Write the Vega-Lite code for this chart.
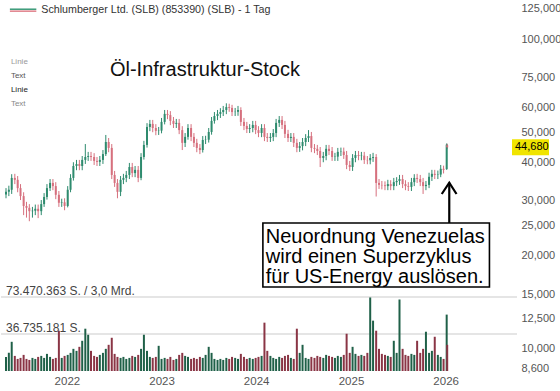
{
  "$schema": "https://vega.github.io/schema/vega-lite/v6.json",
  "width": 516,
  "height": 371,
  "padding": 0,
  "background": "white",
  "config": {
    "view": {"stroke": null},
    "font": "Liberation Sans",
    "axis": {"grid": false, "ticks": false, "domain": false, "labelColor": "#555", "titleColor": "#555"}
  },
  "datasets": {
    "px": [
      {"d":"2021-05-11","o":31.5,"h":33.0,"l":30.6,"c":32.1,"v":14},
      {"d":"2021-05-22","o":32.1,"h":33.6,"l":31.1,"c":32.6,"v":18},
      {"d":"2021-06-02","o":32.6,"h":36.6,"l":31.6,"c":35.6,"v":29},
      {"d":"2021-06-14","o":35.6,"h":36.7,"l":34.0,"c":35.1,"v":15},
      {"d":"2021-06-25","o":35.1,"h":36.1,"l":32.0,"c":33.0,"v":12},
      {"d":"2021-07-06","o":33.0,"h":34.0,"l":30.2,"c":31.1,"v":13},
      {"d":"2021-07-18","o":31.1,"h":32.0,"l":27.0,"c":28.9,"v":16},
      {"d":"2021-07-29","o":28.9,"h":29.8,"l":26.5,"c":28.5,"v":12},
      {"d":"2021-08-09","o":28.5,"h":29.3,"l":25.8,"c":27.8,"v":11},
      {"d":"2021-08-21","o":27.8,"h":28.7,"l":26.5,"c":27.9,"v":13},
      {"d":"2021-09-01","o":27.9,"h":29.2,"l":27.0,"c":28.3,"v":12},
      {"d":"2021-09-12","o":28.3,"h":29.2,"l":26.4,"c":27.8,"v":14},
      {"d":"2021-09-24","o":27.8,"h":30.2,"l":27.0,"c":29.3,"v":15},
      {"d":"2021-10-05","o":29.3,"h":31.8,"l":28.7,"c":30.9,"v":13},
      {"d":"2021-10-16","o":30.9,"h":34.0,"l":30.3,"c":33.0,"v":17},
      {"d":"2021-10-28","o":33.0,"h":35.3,"l":32.3,"c":34.3,"v":14},
      {"d":"2021-11-08","o":34.3,"h":35.3,"l":32.5,"c":33.5,"v":12},
      {"d":"2021-11-19","o":33.5,"h":34.5,"l":30.4,"c":31.4,"v":13},
      {"d":"2021-12-01","o":31.4,"h":32.3,"l":28.7,"c":29.6,"v":40},
      {"d":"2021-12-12","o":29.6,"h":30.5,"l":28.7,"c":29.7,"v":13},
      {"d":"2021-12-23","o":29.7,"h":30.6,"l":28.0,"c":28.9,"v":15},
      {"d":"2022-01-04","o":28.9,"h":33.5,"l":28.6,"c":32.6,"v":16},
      {"d":"2022-01-15","o":32.6,"h":36.6,"l":32.0,"c":35.6,"v":18},
      {"d":"2022-01-26","o":35.6,"h":40.0,"l":34.9,"c":38.9,"v":22},
      {"d":"2022-02-07","o":38.9,"h":40.7,"l":37.7,"c":39.5,"v":20},
      {"d":"2022-02-18","o":39.5,"h":40.7,"l":37.7,"c":38.9,"v":24},
      {"d":"2022-03-01","o":38.9,"h":41.9,"l":37.7,"c":40.7,"v":30},
      {"d":"2022-03-13","o":40.7,"h":45.8,"l":39.5,"c":41.6,"v":42},
      {"d":"2022-03-24","o":41.6,"h":43.2,"l":40.4,"c":41.9,"v":36},
      {"d":"2022-04-04","o":41.9,"h":43.2,"l":40.4,"c":41.6,"v":20},
      {"d":"2022-04-16","o":41.6,"h":42.8,"l":39.2,"c":40.4,"v":15},
      {"d":"2022-04-27","o":40.4,"h":41.6,"l":38.9,"c":40.1,"v":14},
      {"d":"2022-05-08","o":40.1,"h":41.9,"l":38.9,"c":40.7,"v":16},
      {"d":"2022-05-20","o":40.7,"h":43.8,"l":39.5,"c":42.5,"v":18},
      {"d":"2022-05-31","o":42.5,"h":49.0,"l":41.9,"c":46.5,"v":22},
      {"d":"2022-06-11","o":46.5,"h":47.9,"l":43.1,"c":44.5,"v":26},
      {"d":"2022-06-23","o":44.5,"h":45.8,"l":35.3,"c":36.4,"v":33},
      {"d":"2022-07-04","o":36.4,"h":37.5,"l":33.3,"c":34.3,"v":17},
      {"d":"2022-07-15","o":34.3,"h":35.3,"l":30.6,"c":32.1,"v":14},
      {"d":"2022-07-27","o":32.1,"h":36.1,"l":31.1,"c":35.1,"v":13},
      {"d":"2022-08-07","o":35.1,"h":36.7,"l":34.0,"c":35.6,"v":14},
      {"d":"2022-08-18","o":35.6,"h":37.5,"l":34.5,"c":36.4,"v":12},
      {"d":"2022-08-30","o":36.4,"h":39.8,"l":35.3,"c":38.6,"v":13},
      {"d":"2022-09-10","o":38.6,"h":39.8,"l":35.8,"c":36.9,"v":15},
      {"d":"2022-09-21","o":36.9,"h":38.9,"l":35.8,"c":37.8,"v":14},
      {"d":"2022-10-03","o":37.8,"h":38.9,"l":34.5,"c":35.6,"v":16},
      {"d":"2022-10-14","o":35.6,"h":42.8,"l":35.0,"c":41.6,"v":22},
      {"d":"2022-10-25","o":41.6,"h":46.9,"l":40.8,"c":45.5,"v":36},
      {"d":"2022-11-06","o":45.5,"h":53.5,"l":44.6,"c":52.0,"v":20},
      {"d":"2022-11-17","o":52.0,"h":54.8,"l":50.4,"c":53.2,"v":14},
      {"d":"2022-11-28","o":53.2,"h":54.8,"l":50.0,"c":51.6,"v":13},
      {"d":"2022-12-10","o":51.6,"h":53.1,"l":48.9,"c":50.5,"v":14},
      {"d":"2022-12-21","o":50.5,"h":52.0,"l":49.0,"c":50.6,"v":25},
      {"d":"2023-01-01","o":50.6,"h":55.6,"l":49.6,"c":54.0,"v":12},
      {"d":"2023-01-13","o":54.0,"h":59.0,"l":53.0,"c":57.3,"v":13},
      {"d":"2023-01-24","o":57.3,"h":59.0,"l":55.1,"c":56.8,"v":12},
      {"d":"2023-02-04","o":56.8,"h":58.5,"l":52.7,"c":54.4,"v":14},
      {"d":"2023-02-16","o":54.4,"h":56.0,"l":51.6,"c":53.2,"v":11},
      {"d":"2023-02-27","o":53.2,"h":55.2,"l":51.6,"c":53.6,"v":12},
      {"d":"2023-03-10","o":53.6,"h":55.2,"l":49.3,"c":50.8,"v":16},
      {"d":"2023-03-22","o":50.8,"h":52.3,"l":43.8,"c":46.2,"v":18},
      {"d":"2023-04-02","o":46.2,"h":49.7,"l":44.8,"c":48.3,"v":15},
      {"d":"2023-04-13","o":48.3,"h":53.1,"l":47.3,"c":51.6,"v":14},
      {"d":"2023-04-25","o":51.6,"h":53.1,"l":46.8,"c":48.3,"v":12},
      {"d":"2023-05-06","o":48.3,"h":49.7,"l":44.8,"c":46.2,"v":13},
      {"d":"2023-05-17","o":46.2,"h":47.6,"l":43.1,"c":44.5,"v":12},
      {"d":"2023-05-29","o":44.5,"h":45.8,"l":42.5,"c":43.8,"v":14},
      {"d":"2023-06-09","o":43.8,"h":48.6,"l":43.0,"c":47.2,"v":13},
      {"d":"2023-06-20","o":47.2,"h":48.7,"l":45.8,"c":47.3,"v":16},
      {"d":"2023-07-02","o":47.3,"h":51.6,"l":46.3,"c":50.1,"v":24},
      {"d":"2023-07-13","o":50.1,"h":56.0,"l":49.1,"c":54.4,"v":18},
      {"d":"2023-07-24","o":54.4,"h":58.1,"l":53.3,"c":56.4,"v":12},
      {"d":"2023-08-05","o":56.4,"h":59.0,"l":54.7,"c":57.3,"v":11},
      {"d":"2023-08-16","o":57.3,"h":59.8,"l":55.6,"c":58.1,"v":12},
      {"d":"2023-08-27","o":58.1,"h":60.8,"l":56.4,"c":59.0,"v":11},
      {"d":"2023-09-08","o":59.0,"h":62.0,"l":57.2,"c":60.3,"v":13},
      {"d":"2023-09-19","o":60.3,"h":61.8,"l":58.2,"c":59.9,"v":12},
      {"d":"2023-09-30","o":59.9,"h":61.3,"l":56.4,"c":58.1,"v":14},
      {"d":"2023-10-12","o":58.1,"h":59.9,"l":56.4,"c":58.2,"v":13},
      {"d":"2023-10-23","o":58.2,"h":60.8,"l":56.5,"c":59.0,"v":12},
      {"d":"2023-11-03","o":59.0,"h":60.2,"l":52.4,"c":54.0,"v":17},
      {"d":"2023-11-15","o":54.0,"h":55.6,"l":50.8,"c":52.4,"v":14},
      {"d":"2023-11-26","o":52.4,"h":54.0,"l":49.7,"c":51.2,"v":12},
      {"d":"2023-12-07","o":51.2,"h":53.1,"l":49.7,"c":51.6,"v":13},
      {"d":"2023-12-19","o":51.6,"h":54.4,"l":50.0,"c":52.8,"v":12},
      {"d":"2023-12-30","o":52.8,"h":54.4,"l":49.3,"c":50.8,"v":13},
      {"d":"2024-01-10","o":50.8,"h":52.3,"l":48.2,"c":49.7,"v":14},
      {"d":"2024-01-22","o":49.7,"h":53.1,"l":48.2,"c":51.6,"v":15},
      {"d":"2024-02-02","o":51.6,"h":53.1,"l":46.8,"c":48.3,"v":48},
      {"d":"2024-02-13","o":48.3,"h":49.7,"l":46.5,"c":47.9,"v":20},
      {"d":"2024-02-25","o":47.9,"h":49.7,"l":46.5,"c":48.3,"v":15},
      {"d":"2024-03-07","o":48.3,"h":51.2,"l":46.8,"c":49.7,"v":13},
      {"d":"2024-03-18","o":49.7,"h":55.2,"l":48.2,"c":53.6,"v":12},
      {"d":"2024-03-30","o":53.6,"h":56.4,"l":52.0,"c":54.8,"v":14},
      {"d":"2024-04-10","o":54.8,"h":56.4,"l":51.2,"c":52.8,"v":13},
      {"d":"2024-04-21","o":52.8,"h":54.4,"l":47.9,"c":49.4,"v":15},
      {"d":"2024-05-03","o":49.4,"h":50.9,"l":46.5,"c":47.9,"v":16},
      {"d":"2024-05-14","o":47.9,"h":49.7,"l":46.5,"c":48.3,"v":13},
      {"d":"2024-05-25","o":48.3,"h":49.7,"l":44.8,"c":46.2,"v":12},
      {"d":"2024-06-06","o":46.2,"h":47.6,"l":43.1,"c":44.5,"v":42},
      {"d":"2024-06-17","o":44.5,"h":46.5,"l":43.2,"c":45.1,"v":18},
      {"d":"2024-06-28","o":45.1,"h":47.9,"l":43.7,"c":46.5,"v":26},
      {"d":"2024-07-10","o":46.5,"h":49.3,"l":45.1,"c":47.9,"v":13},
      {"d":"2024-07-21","o":47.9,"h":50.8,"l":46.5,"c":48.6,"v":12},
      {"d":"2024-08-01","o":48.6,"h":50.1,"l":43.1,"c":44.5,"v":14},
      {"d":"2024-08-13","o":44.5,"h":45.8,"l":42.8,"c":44.2,"v":13},
      {"d":"2024-08-24","o":44.2,"h":45.5,"l":42.2,"c":43.5,"v":15},
      {"d":"2024-09-04","o":43.5,"h":44.8,"l":38.6,"c":41.3,"v":14},
      {"d":"2024-09-16","o":41.3,"h":43.2,"l":40.0,"c":41.9,"v":13},
      {"d":"2024-09-27","o":41.9,"h":45.5,"l":40.6,"c":44.2,"v":16},
      {"d":"2024-10-08","o":44.2,"h":45.5,"l":42.2,"c":43.5,"v":15},
      {"d":"2024-10-20","o":43.5,"h":44.8,"l":40.4,"c":41.6,"v":14},
      {"d":"2024-10-31","o":41.6,"h":42.9,"l":40.4,"c":41.7,"v":13},
      {"d":"2024-11-11","o":41.7,"h":44.5,"l":40.4,"c":43.2,"v":15},
      {"d":"2024-11-23","o":43.2,"h":44.6,"l":41.9,"c":43.3,"v":14},
      {"d":"2024-12-04","o":43.3,"h":44.6,"l":41.0,"c":42.2,"v":16},
      {"d":"2024-12-15","o":42.2,"h":43.5,"l":38.0,"c":39.2,"v":37},
      {"d":"2024-12-27","o":39.2,"h":40.4,"l":37.5,"c":38.6,"v":18},
      {"d":"2025-01-07","o":38.6,"h":42.5,"l":37.5,"c":41.3,"v":24},
      {"d":"2025-01-18","o":41.3,"h":43.5,"l":40.0,"c":42.2,"v":17},
      {"d":"2025-01-30","o":42.2,"h":43.5,"l":40.6,"c":41.9,"v":15},
      {"d":"2025-02-10","o":41.9,"h":43.2,"l":40.6,"c":42.0,"v":16},
      {"d":"2025-02-21","o":42.0,"h":43.2,"l":39.5,"c":40.7,"v":15},
      {"d":"2025-03-05","o":40.7,"h":41.9,"l":39.4,"c":40.6,"v":18},
      {"d":"2025-03-16","o":40.6,"h":42.5,"l":39.4,"c":41.3,"v":73},
      {"d":"2025-03-27","o":41.3,"h":42.9,"l":40.1,"c":41.6,"v":50},
      {"d":"2025-04-08","o":41.6,"h":42.5,"l":31.0,"c":34.3,"v":40},
      {"d":"2025-04-19","o":34.3,"h":35.3,"l":32.8,"c":33.8,"v":22},
      {"d":"2025-04-30","o":33.8,"h":34.8,"l":32.7,"c":33.7,"v":17},
      {"d":"2025-05-12","o":33.7,"h":34.7,"l":32.5,"c":33.5,"v":16},
      {"d":"2025-05-23","o":33.5,"h":35.1,"l":32.5,"c":34.0,"v":15},
      {"d":"2025-06-03","o":34.0,"h":35.0,"l":32.5,"c":33.5,"v":14},
      {"d":"2025-06-15","o":33.5,"h":35.6,"l":32.5,"c":34.5,"v":30},
      {"d":"2025-06-26","o":34.5,"h":35.8,"l":33.5,"c":34.8,"v":18},
      {"d":"2025-07-07","o":34.8,"h":36.4,"l":33.8,"c":35.3,"v":71},
      {"d":"2025-07-19","o":35.3,"h":36.4,"l":33.0,"c":34.0,"v":22},
      {"d":"2025-07-30","o":34.0,"h":35.0,"l":32.5,"c":33.5,"v":16},
      {"d":"2025-08-10","o":33.5,"h":34.5,"l":32.3,"c":33.3,"v":15},
      {"d":"2025-08-22","o":33.3,"h":35.6,"l":32.3,"c":34.5,"v":17},
      {"d":"2025-09-02","o":34.5,"h":36.6,"l":33.5,"c":35.6,"v":16},
      {"d":"2025-09-13","o":35.6,"h":36.7,"l":34.3,"c":35.3,"v":30},
      {"d":"2025-09-25","o":35.3,"h":36.4,"l":33.5,"c":34.5,"v":18},
      {"d":"2025-10-06","o":34.5,"h":35.6,"l":31.6,"c":33.5,"v":22},
      {"d":"2025-10-17","o":33.5,"h":34.8,"l":32.5,"c":33.8,"v":39},
      {"d":"2025-10-29","o":33.8,"h":37.0,"l":33.0,"c":35.9,"v":18},
      {"d":"2025-11-09","o":35.9,"h":37.8,"l":34.8,"c":36.7,"v":20},
      {"d":"2025-11-20","o":36.7,"h":37.8,"l":35.3,"c":36.4,"v":34},
      {"d":"2025-12-02","o":36.4,"h":37.6,"l":35.3,"c":36.5,"v":16},
      {"d":"2025-12-13","o":36.5,"h":39.2,"l":35.8,"c":38.1,"v":14},
      {"d":"2025-12-24","o":38.1,"h":39.0,"l":36.8,"c":37.8,"v":12},
      {"d":"2026-01-05","o":38.0,"h":46.0,"l":37.8,"c":45.6,"v":56},
      {"d":"2026-01-07","o":45.4,"h":45.9,"l":44.2,"c":44.68,"v":26}
    ]
  },
  "resolve": {"scale": {"y": "independent"}, "axis": {"y": "independent"}},
  "layer": [
    {
      "layer": [
        {
          "data": {"name": "px"},
          "mark": {"type": "rule", "strokeWidth": 1},
          "encoding": {
            "x": {"field": "d", "type": "temporal",
                  "scale": {"domain": [{"year": 2021, "month": 5, "date": 11}, {"year": 2026, "month": 9, "date": 14}]},
                  "axis": {"orient": "bottom", "title": null,
                           "values": [{"year": 2022, "month": 1, "date": 1}, {"year": 2023, "month": 1, "date": 1}, {"year": 2024, "month": 1, "date": 1}, {"year": 2025, "month": 1, "date": 1}, {"year": 2026, "month": 1, "date": 1}],
                           "format": "%Y", "labelFontSize": 11.5, "labelPadding": 4, "labelOverlap": false, "labelFlush": false}},
            "y": {"field": "l", "type": "quantitative",
                  "scale": {"type": "log", "domain": [8.472, 133.65], "nice": false, "zero": false},
                  "axis": {"orient": "right", "title": null,
                           "values": [8.6, 10, 12.5, 15, 20, 25, 30, 40, 50, 60, 75, 100, 125], "labelExpr": "replace(format(datum.value, '.3f'), '.', ',')", "labelFontSize": 11, "labelPadding": 4, "labelOverlap": false}},
            "y2": {"field": "h"},
            "color": {"condition": {"test": "datum.c >= datum.o", "value": "#2e8b6e"}, "value": "#d6707e"}
          }
        },
        {
          "data": {"name": "px"},
          "mark": {"type": "bar", "width": 2},
          "encoding": {
            "x": {"field": "d", "type": "temporal"},
            "y": {"field": "o", "type": "quantitative"},
            "y2": {"field": "c"},
            "color": {"condition": {"test": "datum.c >= datum.o", "value": "#2e8b6e"}, "value": "#d6707e"}
          }
        },
        {
          "data": {"values": [{}]},
          "mark": {"type": "rect", "fill": "#f0e400", "x2Offset": 37, "yOffset": -8, "y2Offset": 8},
          "encoding": {
            "x": {"datum": {"year": 2026, "month": 9, "date": 14}, "type": "temporal"},
            "x2": {"datum": {"year": 2026, "month": 9, "date": 14}},
            "y": {"datum": 44.68, "type": "quantitative"},
            "y2": {"datum": 44.68}
          }
        },
        {
          "data": {"values": [{}]},
          "mark": {"type": "text", "text": "44,680", "align": "left", "baseline": "middle", "dx": 3, "fontSize": 11, "color": "#000"},
          "encoding": {
            "x": {"datum": {"year": 2026, "month": 9, "date": 14}, "type": "temporal"},
            "y": {"datum": 44.68, "type": "quantitative"}
          }
        },
        {
          "data": {"values": [{}]},
          "mark": {"type": "rule", "color": "#3a9a78", "strokeWidth": 1.5},
          "encoding": {
            "x": {"datum": {"year": 2021, "month": 5, "date": 26}, "type": "temporal"},
            "x2": {"datum": {"year": 2021, "month": 9, "date": 5}},
            "y": {"datum": 124.8, "type": "quantitative"}
          }
        },
        {
          "data": {"values": [{}]},
          "mark": {"type": "rule", "color": "#e0808a", "strokeWidth": 1.5},
          "encoding": {
            "x": {"datum": {"year": 2021, "month": 5, "date": 26}, "type": "temporal"},
            "x2": {"datum": {"year": 2021, "month": 9, "date": 5}},
            "y": {"datum": 123.0, "type": "quantitative"}
          }
        },
        {
          "data": {"values": [{}]},
          "mark": {"type": "text", "text": "Schlumberger Ltd. (SLB) (853390) (SLB) - 1 Tag", "align": "left", "baseline": "alphabetic", "fontSize": 10.7, "color": "#333"},
          "encoding": {
            "x": {"datum": {"year": 2021, "month": 9, "date": 24}, "type": "temporal"},
            "y": {"datum": 121.1, "type": "quantitative"}
          }
        },
        {
          "data": {"values": [{}]},
          "mark": {"type": "text", "text": "Linie", "align": "left", "baseline": "alphabetic", "fontSize": 8, "color": "#999"},
          "encoding": {
            "x": {"datum": {"year": 2021, "month": 5, "date": 30}, "type": "temporal"},
            "y": {"datum": 83.2, "type": "quantitative"}
          }
        },
        {
          "data": {"values": [{}]},
          "mark": {"type": "text", "text": "Text", "align": "left", "baseline": "alphabetic", "fontSize": 8, "color": "#555"},
          "encoding": {
            "x": {"datum": {"year": 2021, "month": 5, "date": 30}, "type": "temporal"},
            "y": {"datum": 75.0, "type": "quantitative"}
          }
        },
        {
          "data": {"values": [{}]},
          "mark": {"type": "text", "text": "Linie", "align": "left", "baseline": "alphabetic", "fontSize": 8, "color": "#222"},
          "encoding": {
            "x": {"datum": {"year": 2021, "month": 5, "date": 30}, "type": "temporal"},
            "y": {"datum": 67.4, "type": "quantitative"}
          }
        },
        {
          "data": {"values": [{}]},
          "mark": {"type": "text", "text": "Text", "align": "left", "baseline": "alphabetic", "fontSize": 8, "color": "#888"},
          "encoding": {
            "x": {"datum": {"year": 2021, "month": 5, "date": 30}, "type": "temporal"},
            "y": {"datum": 60.8, "type": "quantitative"}
          }
        },
        {
          "data": {"values": [{}]},
          "mark": {"type": "text", "text": "Öl-Infrastruktur-Stock", "align": "left", "baseline": "alphabetic", "fontSize": 20, "color": "#111"},
          "encoding": {
            "x": {"datum": {"year": 2022, "month": 6, "date": 16}, "type": "temporal"},
            "y": {"datum": 75.9, "type": "quantitative"}
          }
        },
        {
          "data": {"values": [{}]},
          "mark": {"type": "rect", "fill": "white", "stroke": "#000", "strokeWidth": 1.6},
          "encoding": {
            "x": {"datum": {"year": 2024, "month": 1, "date": 27}, "type": "temporal"},
            "x2": {"datum": {"year": 2026, "month": 6, "date": 19}},
            "y": {"datum": 25.47, "type": "quantitative"},
            "y2": {"datum": 15.82}
          }
        },
        {
          "data": {"values": [{}]},
          "mark": {"type": "text", "text": ["Neuordnung Venezuelas", "wird einen Superzyklus", "für US-Energy auslösen."], "lineHeight": 20, "align": "left", "baseline": "alphabetic", "fontSize": 20, "color": "#000"},
          "encoding": {
            "x": {"datum": {"year": 2024, "month": 2, "date": 7}, "type": "temporal"},
            "y": {"datum": 21.99, "type": "quantitative"}
          }
        },
        {
          "data": {"values": [{}]},
          "mark": {"type": "rule", "color": "#000", "strokeWidth": 2.2},
          "encoding": {
            "x": {"datum": {"year": 2026, "month": 1, "date": 15}, "type": "temporal"},
            "y": {"datum": 25.47, "type": "quantitative"},
            "y2": {"datum": 34.37}
          }
        },
        {
          "data": {"values": [{"d": "2025-12-17", "p": 31.59, "k": 1}, {"d": "2026-01-15", "p": 34.37, "k": 2}, {"d": "2026-02-12", "p": 31.59, "k": 3}]},
          "mark": {"type": "line", "color": "#000", "strokeWidth": 2.2},
          "encoding": {
            "x": {"field": "d", "type": "temporal"},
            "y": {"field": "p", "type": "quantitative"},
            "order": {"field": "k", "type": "quantitative"}
          }
        }
      ]
    },
    {
      "layer": [
        {
          "data": {"values": [{"v": 36.735181, "t": "36.735.181 S."}, {"v": 73.470363, "t": "73.470.363 S. / 3,0 Mrd."}]},
          "mark": {"type": "rule", "color": "#dcdcdc", "strokeWidth": 1.5},
          "encoding": {"y": {"field": "v", "type": "quantitative", "scale": {"domain": [0, 368.4], "nice": false, "zero": true}, "axis": null}}
        },
        {
          "data": {"name": "px"},
          "mark": {"type": "bar", "width": 2},
          "encoding": {
            "x": {"field": "d", "type": "temporal"},
            "y": {"field": "v", "type": "quantitative", "axis": null},
            "color": {"condition": {"test": "datum.c >= datum.o", "value": "#1f6048"}, "value": "#8a3545"}
          }
        },
        {
          "data": {"values": [{"v": 36.735181, "t": "36.735.181 S."}, {"v": 73.470363, "t": "73.470.363 S. / 3,0 Mrd."}]},
          "mark": {"type": "text", "align": "left", "baseline": "alphabetic", "dy": -2, "fontSize": 12, "color": "#444"},
          "encoding": {
            "x": {"datum": {"year": 2021, "month": 5, "date": 11}, "type": "temporal"},
            "y": {"field": "v", "type": "quantitative", "axis": null},
            "text": {"field": "t"}
          }
        }
      ]
    }
  ]
}
